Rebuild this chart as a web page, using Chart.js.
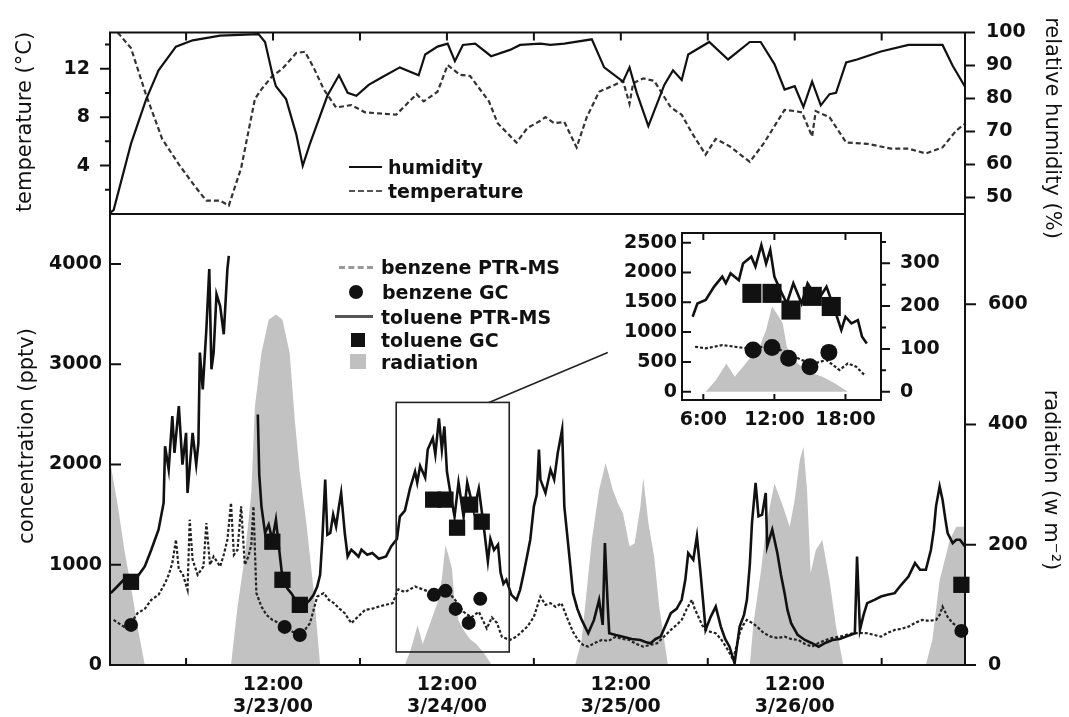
<!DOCTYPE html>
<html><head><meta charset="utf-8">
<script src="https://cdn.jsdelivr.net/npm/chart.js@4.4.1/dist/chart.umd.min.js"></script>
<style>
html,body{margin:0;padding:0;background:#fff;}
#wrap{position:relative;width:1069px;height:717px;overflow:hidden;background:#fff;font-family:'DejaVu Sans',sans-serif;color:#111;}
canvas{position:absolute;left:0;top:0;}
.lg{position:absolute;white-space:nowrap;font-size:19px;font-weight:bold;line-height:22px;}
.ttl{position:absolute;white-space:nowrap;font-size:21px;line-height:24px;transform:translate(-50%,-50%) rotate(-90deg);}
.ttl.r{transform:translate(-50%,-50%) rotate(90deg);}
.sw{position:absolute;}
</style></head>
<body><div id="wrap">
<canvas id="cTop" width="1069" height="717"></canvas>
<canvas id="cMain" width="1069" height="717"></canvas>
<canvas id="cInset" width="1069" height="717"></canvas>

<div class="ttl" style="left:24px;top:122px">temperature (°C)</div>
<div class="ttl r" style="left:1053px;top:128px">relative humidity (%)</div>
<div class="ttl" style="left:26px;top:436px">concentration (pptv)</div>
<div class="ttl r" style="left:1052px;top:480px">radiation (w m⁻²)</div>

<div class="sw" style="left:349px;top:166px;width:33px;height:0;border-top:2.5px solid #111"></div>
<div class="lg" style="left:388px;top:156px">humidity</div>
<div class="sw" style="left:349px;top:190px;width:33px;height:0;border-top:2px dashed #555"></div>
<div class="lg" style="left:388px;top:180px">temperature</div>

<div class="sw" style="left:339px;top:266px;width:34px;height:0;border-top:3px dashed #9a9a9a"></div>
<div class="lg" style="left:381px;top:256px">benzene PTR-MS</div>
<div class="sw" style="left:349px;top:285px;width:14px;height:14px;border-radius:50%;background:#111"></div>
<div class="lg" style="left:382px;top:281px">benzene GC</div>
<div class="sw" style="left:335px;top:315px;width:38px;height:3px;background:#555"></div>
<div class="lg" style="left:381px;top:306px">toluene PTR-MS</div>
<div class="sw" style="left:351px;top:333px;width:14px;height:14px;background:#111"></div>
<div class="lg" style="left:381px;top:329px">toluene GC</div>
<div class="sw" style="left:350px;top:354px;width:16px;height:15px;background:#c0c0c0"></div>
<div class="lg" style="left:381px;top:351px">radiation</div>
</div>
<script>
// ---------- DATA (x = hours since 3/22/00 00:00) ----------
const humidity = [[13.5,45.3],[14.0,46.2],[16.4,66.3],[18.5,79.8],[20.2,88.5],[22.6,95.7],[24.9,97.6],[28.7,99.0],[34.0,99.5],[34.9,97.1],[35.9,87.5],[36.4,83.7],[37.8,79.8],[39.2,69.2],[40.1,59.6],[41.1,66.3],[43.5,80.8],[45.1,87.0],[46.3,81.7],[47.5,80.8],[49.2,84.1],[51.1,86.5],[53.5,89.4],[56.1,87.0],[57.0,93.3],[58.7,95.7],[60.1,96.6],[61.1,91.3],[62.2,96.2],[63.9,96.6],[66.1,92.8],[68.7,94.7],[70.1,96.2],[72.9,96.6],[74.3,96.2],[76.2,96.6],[80.0,97.9],[81.7,89.4],[84.3,85.1],[85.2,89.4],[86.2,81.7],[87.8,71.6],[90.0,84.1],[91.2,88.5],[92.4,85.6],[93.3,93.3],[96.2,97.1],[98.8,91.8],[101.8,97.1],[103.3,97.1],[105.2,90.4],[106.6,82.7],[108.0,83.7],[109.2,77.4],[110.4,85.1],[111.6,77.9],[112.8,81.3],[113.7,81.7],[115.1,90.9],[116.6,91.8],[119.9,94.2],[123.7,96.2],[128.4,96.2],[129.8,89.9],[131.6,83.2]];
const temperature = [[13.5,15.2],[14.7,14.9],[16.4,13.7],[18.5,9.8],[20.7,6.2],[23.0,4.1],[25.2,2.3],[26.8,1.1],[28.7,1.1],[29.9,0.7],[31.6,3.8],[33.5,9.5],[34.4,10.3],[35.9,11.4],[37.3,12.0],[39.2,13.3],[40.4,13.4],[41.6,12.1],[43.0,10.3],[44.7,8.8],[46.8,9.0],[48.7,8.4],[53.0,8.2],[55.8,9.9],[56.8,9.3],[58.7,10.1],[60.1,12.3],[61.8,11.5],[63.2,11.4],[65.8,9.3],[67.0,7.5],[69.6,5.9],[71.1,7.1],[72.9,7.7],[73.6,8.0],[74.8,7.5],[76.2,7.6],[77.9,5.5],[79.3,8.0],[81.0,10.1],[82.9,10.6],[84.3,11.0],[85.2,9.1],[85.7,10.8],[87.1,11.2],[88.6,11.0],[90.9,8.8],[92.4,8.2],[93.8,6.7],[95.7,4.9],[97.1,6.2],[99.0,5.6],[101.8,4.3],[103.8,5.9],[106.6,8.6],[108.0,8.5],[109.0,8.4],[110.4,6.4],[110.9,8.5],[112.8,8.0],[115.1,5.9],[118.0,5.8],[121.3,5.4],[123.7,5.4],[126.1,5.0],[128.4,5.5],[130.3,6.9],[131.6,7.5]];
const toluene = [[13.6,717],[14.5,783],[15.4,850],[16.4,830],[17.3,883],[18.3,983],[19.2,1150],[20.2,1350],[20.9,1617],[21.1,2183],[21.6,1950],[22.1,2483],[22.4,2117],[23.0,2583],[23.5,2000],[24.0,2317],[24.2,1717],[24.9,2317],[25.4,2000],[25.7,2217],[25.9,3117],[26.3,2750],[26.8,3350],[27.2,3950],[27.5,2950],[27.8,3117],[28.2,3700],[28.7,3583],[29.2,3300],[29.7,3950],[29.9,4083],[31.0,null],[33.9,2500],[34.1,1900],[34.4,1583],[34.9,1317],[35.4,1400],[35.9,1250],[36.4,1450],[36.8,1183],[37.3,867],[38.0,760],[38.5,717],[39.2,640],[39.7,617],[40.4,600],[41.1,650],[41.6,700],[42.1,783],[42.5,900],[42.8,1250],[43.2,1850],[43.5,1300],[43.9,1317],[44.3,1500],[44.7,1383],[45.1,1583],[45.4,1717],[45.9,1317],[46.3,1083],[46.8,1150],[47.3,1117],[47.8,1080],[48.2,1150],[49.0,1100],[49.7,1117],[50.6,1060],[51.6,1083],[52.3,1183],[53.1,1258],[53.5,1480],[54.2,1540],[54.9,1760],[55.6,1930],[55.9,1820],[56.3,1985],[57.0,1870],[57.35,2150],[58.05,2265],[58.4,2100],[58.9,2460],[59.3,2150],[59.65,2380],[60.0,1930],[60.5,1705],[61.05,1480],[61.6,1820],[62.3,1480],[62.8,1820],[63.7,1540],[64.4,1760],[65.1,1370],[65.65,1035],[66.0,1258],[66.5,1147],[67.05,1200],[67.4,923],[67.8,811],[68.2,850],[68.9,700],[69.6,650],[70.1,750],[70.6,917],[71.1,1100],[71.5,1250],[72.0,1583],[72.4,1700],[72.7,2150],[72.9,1850],[73.6,1717],[74.3,1950],[74.8,1850],[75.3,2117],[75.9,2350],[76.2,1583],[76.9,1083],[77.4,717],[78.0,560],[78.6,450],[79.5,317],[80.3,450],[81.0,650],[81.5,400],[81.8,1217],[82.2,583],[82.4,317],[83.3,300],[84.3,283],[85.5,260],[86.7,250],[87.4,230],[88.1,217],[88.8,260],[89.5,283],[90.2,400],[90.9,517],[91.7,560],[92.4,650],[92.9,850],[93.3,1117],[94.0,1050],[94.5,1283],[95.0,917],[95.4,600],[95.7,350],[96.4,480],[97.1,583],[97.8,383],[98.4,260],[99.0,183],[99.7,17],[100.4,383],[101.0,500],[101.4,650],[101.8,1000],[102.1,1417],[102.6,1817],[103.0,1483],[103.5,1500],[104.0,1717],[104.2,1183],[104.9,1350],[105.6,1117],[106.1,900],[106.6,717],[107.0,550],[107.5,417],[108.4,300],[109.4,250],[110.3,220],[111.3,183],[112.2,220],[113.2,250],[114.2,260],[115.1,283],[116.3,317],[116.6,1083],[117.0,350],[117.5,500],[118.0,617],[119.0,650],[119.9,683],[120.8,700],[121.8,717],[122.7,800],[123.7,883],[124.6,1017],[125.3,950],[126.1,950],[126.8,1150],[127.2,1350],[127.5,1583],[128.0,1783],[128.4,1650],[128.8,1450],[129.1,1317],[129.8,1217],[130.3,1250],[130.8,1250],[131.5,1183]];
const benzene = [[14.0,450],[15.4,383],[16.4,420],[17.3,517],[18.3,560],[19.2,650],[20.2,700],[21.1,817],[21.6,900],[22.1,1017],[22.6,1250],[23.0,950],[23.5,917],[24.2,750],[24.5,1450],[24.9,1050],[25.6,900],[26.4,983],[26.8,1417],[27.3,1000],[27.8,1083],[28.7,983],[29.2,1100],[29.7,1250],[30.2,1617],[30.6,1100],[31.1,1150],[31.6,1583],[32.1,1000],[32.6,1083],[33.0,1200],[33.3,1583],[33.7,717],[34.4,583],[35.1,500],[35.9,450],[36.8,420],[37.8,383],[38.7,330],[39.7,317],[40.4,350],[41.1,417],[41.6,550],[42.1,683],[43.0,717],[43.7,650],[44.4,617],[45.2,560],[45.9,517],[46.8,417],[47.7,480],[48.7,550],[49.6,560],[50.6,583],[51.5,600],[52.5,617],[53.3,755],[54.2,727],[55.6,783],[56.65,755],[57.7,727],[59.1,755],[60.2,727],[61.2,643],[62.3,531],[63.35,475],[64.4,531],[65.5,364],[66.2,475],[66.9,420],[67.6,280],[68.7,250],[69.6,283],[70.3,330],[71.1,383],[72.0,480],[72.9,683],[73.6,600],[74.3,617],[75.0,580],[75.8,617],[76.7,450],[77.4,330],[78.1,250],[78.8,200],[79.5,183],[80.4,220],[81.4,250],[82.3,240],[83.3,283],[84.2,260],[85.2,250],[86.1,210],[87.1,183],[88.0,200],[89.0,217],[89.9,280],[90.9,350],[91.7,400],[92.4,450],[93.1,560],[93.8,650],[94.2,560],[94.7,483],[95.2,400],[95.7,350],[96.4,330],[97.1,317],[97.8,260],[98.5,183],[99.0,120],[99.5,50],[100.0,200],[100.4,317],[100.9,400],[101.4,450],[102.1,420],[102.8,383],[103.7,320],[104.7,283],[105.6,270],[106.6,283],[107.5,260],[108.5,250],[109.4,210],[110.4,183],[111.3,220],[112.3,250],[113.2,270],[114.2,283],[115.1,300],[116.1,317],[117.0,320],[118.0,317],[119.0,300],[119.9,283],[120.8,320],[121.8,350],[122.7,360],[123.7,383],[124.6,420],[125.6,450],[126.5,440],[127.5,450],[128.0,500],[128.4,583],[129.1,480],[129.8,417],[130.5,380],[131.2,333]];
const radiation = [[13.5,340],[14.6,263],[15.5,190],[16.4,130],[17.3,64],[18.3,0],[30.2,0],[31.1,97],[32.1,180],[33.0,286],[33.5,430],[34.4,519],[35.4,574],[36.4,583],[37.3,574],[38.3,519],[39.0,408],[39.7,319],[40.6,236],[41.6,125],[42.5,0],[54.2,0],[55.05,27],[55.95,66],[56.65,35],[57.35,58],[58.05,82],[58.75,105],[59.3,144],[59.8,199],[60.2,183],[60.7,160],[61.05,105],[61.6,74],[62.3,58],[63.2,43],[64.05,35],[65.1,20],[66.2,0],[77.7,0],[78.6,42],[80.0,208],[81.0,291],[81.9,336],[82.9,291],[83.6,269],[84.3,252],[85.2,197],[85.9,202],[86.7,263],[87.1,311],[87.8,236],[88.6,180],[89.3,97],[90.5,0],[101.8,0],[102.3,69],[103.3,153],[104.2,241],[105.2,302],[106.4,263],[107.3,230],[108.0,275],[108.7,341],[109.2,363],[109.7,291],[110.2,153],[110.9,191],[111.8,208],[112.8,141],[113.7,64],[114.7,0],[126.1,0],[127.0,42],[128.0,141],[129.4,208],[130.3,230],[131.5,230]];
const tolueneGC = [[16.4,830],[35.9,1230],[37.3,850],[39.7,600],[58.1,1650],[59.8,1650],[61.4,1370],[63.2,1600],[64.8,1430],[131.0,800]];
const benzeneGC = [[16.4,400],[37.6,380],[39.7,300],[58.2,700],[59.8,740],[61.2,560],[63.0,420],[64.6,660],[131.0,340]];

// axes / ticks
const xRange = [13.5, 131.5];
const midnightHours = [24, 48, 72, 96, 120];
const halfDayHours = [24, 36, 48, 60, 72, 84, 96, 108, 120];
const noonHours = [36, 60, 84, 108];
const noonTimeLabels = ['12:00', '12:00', '12:00', '12:00'];
const noonDateLabels = ['3/23/00', '3/24/00', '3/25/00', '3/26/00'];
const tempRange = [0, 15], tempTicks = [4, 8, 12], tempMinor = [2, 6, 10, 14];
const humRange = [45, 100], humTicks = [50, 60, 70, 80, 90, 100];
const concRange = [0, 4500], concTicks = [0, 1000, 2000, 3000, 4000];
const radRange = [0, 750], radTicks = [0, 200, 400, 600];
// inset (hours of 3/24)
const insetDayStart = 48;
const insetDataWindow = [53.05, 67.9];
const insetXRange = [4.2, 21.0];
const insetXTicks = [6, 12, 18], insetXLabels = ['6:00', '12:00', '18:00'];
const insetConcRange = [-139, 2663], insetConcTicks = [0, 500, 1000, 1500, 2000, 2500];
const insetRadRange = [-19.4, 370.8], insetRadTicks = [0, 100, 200, 300], insetRadMinor = [50, 150, 250, 350];
const zoomBoxHours = [53.0, 68.6], zoomBoxConc = [130, 2620];
const connectorLine = [[65.8, 2620], [82.2, 3117]];

// ---------- RENDER ----------
const FONT = 'DejaVu Sans';
Chart.defaults.font.family = FONT;
Chart.defaults.color = '#111';
const tickFont = {family: FONT, size: 19, weight: 'bold'};
const plain = v => String(v);
const xy = arr => arr.map(([x, y]) => ({x, y}));
const inset = arr => arr.filter(([t]) => t >= insetDataWindow[0] && t <= insetDataWindow[1]).map(([t, v]) => ({x: t - insetDayStart, y: v}));
const fixTicks = vals => s => { s.ticks = vals.map(v => ({value: v})); };
const noGrid = {display: false, drawTicks: false};
const noBorder = {display: false};

const frameTicks = {
  id: 'frameTicks',
  beforeDraw(chart, args, o) {
    if (!o.whiteBg) return;
    const a = chart.chartArea, ctx = chart.ctx;
    ctx.save(); ctx.fillStyle = '#fff'; ctx.fillRect(a.left, a.top, a.right - a.left, a.bottom - a.top); ctx.restore();
  },
  afterDraw(chart, args, o) {
    const ctx = chart.ctx, a = chart.chartArea;
    ctx.save();
    ctx.strokeStyle = '#111';
    ctx.lineWidth = o.lineWidth || 2;
    ctx.beginPath();
    const sides = o.sides || ['top', 'right', 'bottom', 'left'];
    if (sides.includes('top')) { ctx.moveTo(a.left - 1, a.top); ctx.lineTo(a.right + 1, a.top); }
    if (sides.includes('bottom')) { ctx.moveTo(a.left - 1, a.bottom); ctx.lineTo(a.right + 1, a.bottom); }
    if (sides.includes('left')) { ctx.moveTo(a.left, a.top); ctx.lineTo(a.left, a.bottom); }
    if (sides.includes('right')) { ctx.moveTo(a.right, a.top); ctx.lineTo(a.right, a.bottom); }
    (o.marks || []).forEach(m => {
      const s = chart.scales[m.scale];
      const d = m.dir === 'in' ? 1 : -1;
      m.values.forEach(v => {
        const p = s.getPixelForValue(v);
        if (m.edge === 'left') { ctx.moveTo(a.left, p); ctx.lineTo(a.left + d * m.len, p); }
        else if (m.edge === 'right') { ctx.moveTo(a.right, p); ctx.lineTo(a.right - d * m.len, p); }
        else if (m.edge === 'top') { ctx.moveTo(p, a.top); ctx.lineTo(p, a.top + d * m.len); }
        else { ctx.moveTo(p, a.bottom); ctx.lineTo(p, a.bottom - d * m.len); }
      });
    });
    ctx.stroke();
    ctx.restore();
  }
};

const zoomBox = {
  id: 'zoomBox',
  afterDatasetsDraw(chart) {
    const x = chart.scales.x, y = chart.scales.yC, ctx = chart.ctx;
    ctx.save();
    ctx.strokeStyle = '#222'; ctx.lineWidth = 1.6;
    const x0 = x.getPixelForValue(zoomBoxHours[0]), x1 = x.getPixelForValue(zoomBoxHours[1]);
    const y0 = y.getPixelForValue(zoomBoxConc[0]), y1 = y.getPixelForValue(zoomBoxConc[1]);
    ctx.strokeRect(x0, y1, x1 - x0, y0 - y1);
    ctx.beginPath();
    ctx.moveTo(x.getPixelForValue(connectorLine[0][0]), y.getPixelForValue(connectorLine[0][1]));
    ctx.lineTo(x.getPixelForValue(connectorLine[1][0]), y.getPixelForValue(connectorLine[1][1]));
    ctx.stroke();
    ctx.restore();
  }
};

const common = {
  responsive: false, animation: false, events: [],
  plugins: {legend: {display: false}, tooltip: {enabled: false}},
  elements: {line: {tension: 0}, point: {radius: 0}}
};

// top panel
new Chart(document.getElementById('cTop'), {
  type: 'line',
  data: {datasets: [
    {data: xy(humidity), yAxisID: 'yH', borderColor: '#111', borderWidth: 2.2, pointRadius: 0},
    {data: xy(temperature), yAxisID: 'yT', borderColor: '#333', borderWidth: 2.2, borderDash: [5, 3], pointRadius: 0}
  ]},
  options: {
    ...common,
    layout: {padding: {top: 23, bottom: 503, left: 0, right: 0}},
    plugins: {...common.plugins, frameTicks: {marks: [
      {scale: 'yT', edge: 'left', dir: 'out', len: 10, values: tempTicks},
      {scale: 'yT', edge: 'left', dir: 'out', len: 5, values: tempMinor},
      {scale: 'yH', edge: 'right', dir: 'out', len: 10, values: humTicks},
      {scale: 'x', edge: 'top', dir: 'in', len: 8, values: halfDayHours}
    ]}},
    scales: {
      x: {type: 'linear', min: xRange[0], max: xRange[1], display: false},
      yT: {position: 'left', min: tempRange[0], max: tempRange[1], afterFit: s => { s.width = 110; },
        afterBuildTicks: fixTicks(tempTicks), grid: noGrid, border: noBorder,
        ticks: {padding: 20, font: tickFont, color: '#111', callback: plain}},
      yH: {position: 'right', min: humRange[0], max: humRange[1], afterFit: s => { s.width = 104; },
        afterBuildTicks: fixTicks(humTicks), grid: noGrid, border: noBorder,
        ticks: {padding: 21, font: tickFont, color: '#111', callback: plain}}
    }
  },
  plugins: [frameTicks]
});

// main panel
new Chart(document.getElementById('cMain'), {
  type: 'line',
  data: {datasets: [
    {data: xy(benzeneGC), yAxisID: 'yC', showLine: false, pointStyle: 'circle', pointRadius: 7, backgroundColor: '#111', borderWidth: 0, order: 0, clip: false},
    {data: xy(tolueneGC), yAxisID: 'yC', showLine: false, pointStyle: 'rect', pointRadius: 11.5, backgroundColor: '#111', borderWidth: 0, order: 1, clip: false},
    {data: xy(toluene), yAxisID: 'yC', borderColor: '#111', borderWidth: 2.6, pointRadius: 0, order: 2},
    {data: xy(benzene), yAxisID: 'yC', borderColor: '#222', borderWidth: 2.2, borderDash: [3, 2], pointRadius: 0, order: 3},
    {data: xy(radiation), yAxisID: 'yR', borderWidth: 0, borderColor: 'rgba(0,0,0,0)', backgroundColor: '#c2c2c2', fill: 'origin', pointRadius: 0, order: 10}
  ]},
  options: {
    ...common,
    layout: {padding: {top: 214, bottom: 0, left: 0, right: 0}},
    plugins: {...common.plugins, frameTicks: {sides: ['left', 'right', 'bottom'], marks: [
      {scale: 'yC', edge: 'left', dir: 'in', len: 11, values: concTicks},
      {scale: 'yR', edge: 'right', dir: 'out', len: 11, values: radTicks},
      {scale: 'x', edge: 'bottom', dir: 'in', len: 7, values: midnightHours}
    ]}},
    scales: {
      x: {type: 'linear', position: 'bottom', min: xRange[0], max: xRange[1], afterFit: s => { s.height = 52; },
        afterBuildTicks: fixTicks(noonHours), grid: noGrid, border: noBorder,
        ticks: {autoSkip: false, maxRotation: 0, padding: 9, color: '#111', font: {...tickFont, lineHeight: 1.15},
          callback: v => { const i = noonHours.indexOf(v); return i < 0 ? '' : [noonTimeLabels[i], noonDateLabels[i]]; }}},
      yC: {position: 'left', min: concRange[0], max: concRange[1], afterFit: s => { s.width = 110; },
        afterBuildTicks: fixTicks(concTicks), grid: noGrid, border: noBorder,
        ticks: {padding: 8, font: tickFont, color: '#111', callback: plain}},
      yR: {position: 'right', min: radRange[0], max: radRange[1], afterFit: s => { s.width = 104; },
        afterBuildTicks: fixTicks(radTicks), grid: noGrid, border: noBorder,
        ticks: {padding: 23, font: tickFont, color: '#111', callback: plain}}
    }
  },
  plugins: [frameTicks, zoomBox]
});

// inset
new Chart(document.getElementById('cInset'), {
  type: 'line',
  data: {datasets: [
    {data: inset(benzeneGC), yAxisID: 'yL', showLine: false, pointStyle: 'circle', pointRadius: 8.5, backgroundColor: '#111', borderWidth: 0, order: 0},
    {data: inset(tolueneGC), yAxisID: 'yL', showLine: false, pointStyle: 'rect', pointRadius: 13.5, backgroundColor: '#111', borderWidth: 0, order: 1},
    {data: inset(toluene), yAxisID: 'yL', borderColor: '#111', borderWidth: 2.6, pointRadius: 0, order: 2},
    {data: inset(benzene), yAxisID: 'yL', borderColor: '#222', borderWidth: 2.2, borderDash: [3, 2], pointRadius: 0, order: 3},
    {data: inset(radiation), yAxisID: 'yR', borderWidth: 0, borderColor: 'rgba(0,0,0,0)', backgroundColor: '#c2c2c2', fill: 'origin', pointRadius: 0, order: 10}
  ]},
  options: {
    ...common,
    layout: {padding: {top: 233, bottom: 0, left: 0, right: 0}},
    plugins: {...common.plugins, frameTicks: {whiteBg: true, marks: [
      {scale: 'yL', edge: 'left', dir: 'in', len: 9, values: insetConcTicks},
      {scale: 'yR', edge: 'right', dir: 'out', len: 9, values: insetRadTicks},
      {scale: 'yR', edge: 'right', dir: 'out', len: 5, values: insetRadMinor},
      {scale: 'x', edge: 'top', dir: 'in', len: 7, values: insetXTicks},
      {scale: 'x', edge: 'bottom', dir: 'in', len: 6, values: insetXTicks}
    ]}},
    scales: {
      x: {type: 'linear', position: 'bottom', min: insetXRange[0], max: insetXRange[1], afterFit: s => { s.height = 317; },
        afterBuildTicks: fixTicks(insetXTicks), grid: noGrid, border: noBorder,
        ticks: {autoSkip: false, maxRotation: 0, padding: 9, color: '#111', font: tickFont,
          callback: v => { const i = insetXTicks.indexOf(v); return i < 0 ? '' : insetXLabels[i]; }}},
      yL: {position: 'left', min: insetConcRange[0], max: insetConcRange[1], afterFit: s => { s.width = 682; },
        afterBuildTicks: fixTicks(insetConcTicks), grid: noGrid, border: noBorder,
        ticks: {padding: 5, font: tickFont, color: '#111', callback: plain}},
      yR: {position: 'right', min: insetRadRange[0], max: insetRadRange[1], afterFit: s => { s.width = 188; },
        afterBuildTicks: fixTicks(insetRadTicks), grid: noGrid, border: noBorder,
        ticks: {padding: 19, font: tickFont, color: '#111', callback: plain}}
    }
  },
  plugins: [frameTicks]
});
</script>
</body></html>
